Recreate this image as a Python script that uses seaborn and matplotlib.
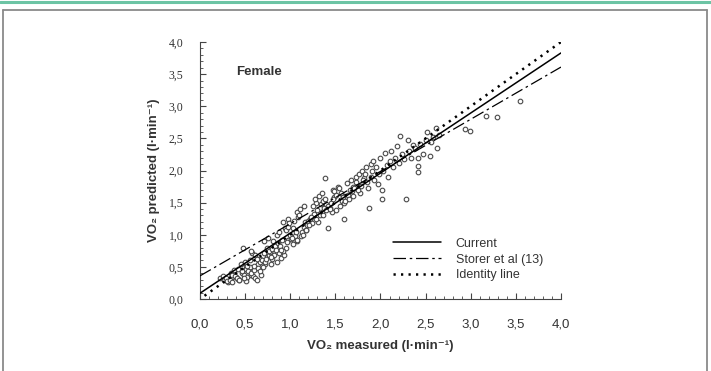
import matplotlib
matplotlib.use("Agg")
import matplotlib.pyplot as plt
import matplotlib.ticker as mticker
from matplotlib.lines import Line2D
import seaborn as sns
import pandas as pd

# measured / predicted VO2 for the female sample
measured = [
    0.22, 0.27, 0.25, 0.31, 0.29, 0.34, 0.30, 0.36, 0.33, 0.38, 0.35, 0.40, 0.36, 0.42, 0.38, 0.43,
    0.39, 0.46, 0.41, 0.47, 0.43, 0.42, 0.49, 0.45, 0.51, 0.46, 0.52, 0.48, 0.55, 0.49, 0.56, 0.50,
    0.57, 0.51, 0.59, 0.52, 0.58, 0.53, 0.61, 0.55, 0.62, 0.56, 0.64, 0.57, 0.63, 0.60, 0.66, 0.60,
    0.68, 0.61, 0.67, 0.64, 0.71, 0.63, 0.72, 0.66, 0.74, 0.69, 0.75, 0.70, 0.77, 0.72, 0.78, 0.73,
    0.71, 0.79, 0.74, 0.82, 0.75, 0.80, 0.77, 0.84, 0.79, 0.85, 0.80, 0.87, 0.81, 0.90, 0.83, 0.91,
    0.84, 0.93, 0.85, 0.95, 0.86, 0.92, 0.88, 0.98, 0.89, 0.94, 0.96, 0.90, 1.00, 0.92, 1.01, 0.95,
    1.03, 0.97, 1.05, 0.98, 1.07, 0.99, 1.06, 1.02, 1.09, 1.03, 1.12, 1.04, 1.13, 1.08, 1.15, 1.07,
    1.16, 1.10, 1.18, 1.11, 1.19, 1.14, 1.22, 1.15, 1.24, 1.17, 1.26, 1.20, 1.28, 1.21, 1.30, 1.23,
    1.31, 1.25, 1.33, 1.27, 1.35, 1.29, 1.37, 1.32, 1.36, 1.38, 1.34, 1.40, 1.36, 1.42, 1.35, 1.44,
    1.38, 1.46, 1.40, 1.47, 1.42, 1.49, 1.44, 1.51, 1.45, 1.53, 1.47, 1.55, 1.49, 1.57, 1.51, 1.58,
    1.54, 1.60, 1.56, 1.63, 1.60, 1.58, 1.66, 1.61, 1.67, 1.64, 1.70, 1.65, 1.73, 1.68, 1.74, 1.70,
    1.76, 1.71, 1.77, 1.73, 1.79, 1.75, 1.82, 1.78, 1.84, 1.81, 1.86, 1.83, 1.89, 1.87, 1.85, 1.91,
    1.90, 1.92, 1.93, 1.95, 1.97, 1.98, 2.00, 2.02, 2.02, 2.03, 2.05, 2.07, 2.08, 2.10, 2.12, 2.14,
    2.16, 2.18, 2.20, 2.22, 2.24, 2.26, 2.28, 2.30, 2.32, 2.34, 2.36, 2.38, 2.41, 2.42, 2.41, 2.44,
    2.47, 2.50, 2.52, 2.55, 2.56, 2.58, 2.61, 2.63, 2.65, 2.94, 2.99, 3.17, 3.29, 3.55,
]
predicted = [
    0.33, 0.30, 0.36, 0.27, 0.32, 0.40, 0.28, 0.35, 0.30, 0.42, 0.27, 0.34, 0.38, 0.31, 0.45, 0.29,
    0.36, 0.52, 0.33, 0.40, 0.30, 0.47, 0.37, 0.55, 0.28, 0.43, 0.35, 0.80, 0.50, 0.32, 0.42, 0.58,
    0.38, 0.47, 0.36, 0.52, 0.72, 0.44, 0.33, 0.60, 0.48, 0.40, 0.55, 0.75, 0.30, 0.45, 0.62, 0.52,
    0.38, 0.68, 0.57, 0.48, 0.72, 0.62, 0.55, 0.44, 0.66, 0.60, 0.78, 0.50, 0.68, 0.58, 0.73, 0.62,
    0.90, 0.55, 0.80, 0.68, 0.95, 0.62, 0.74, 0.85, 0.66, 0.58, 0.78, 0.72, 0.90, 0.64, 0.82, 0.92,
    0.76, 0.68, 1.00, 0.80, 0.87, 0.74, 1.05, 0.92, 0.82, 1.10, 0.88, 0.76, 1.00, 1.20, 0.94, 1.08,
    0.85, 1.25, 0.98, 1.12, 0.90, 1.18, 1.05, 0.95, 1.28, 1.10, 0.98, 1.22, 1.05, 1.35, 1.12, 0.92,
    1.20, 1.30, 1.08, 1.40, 1.15, 1.00, 1.25, 1.45, 1.18, 1.08, 1.32, 1.22, 1.50, 1.15, 1.38, 1.28,
    1.20, 1.45, 1.30, 1.55, 1.35, 1.25, 1.42, 1.60, 1.30, 1.88, 1.48, 1.38, 1.52, 1.10, 1.65, 1.42,
    1.55, 1.35, 1.48, 1.70, 1.45, 1.58, 1.40, 1.62, 1.50, 1.75, 1.55, 1.45, 1.68, 1.52, 1.38, 1.60,
    1.72, 1.50, 1.65, 1.80, 1.25, 1.58, 1.70, 1.52, 1.85, 1.62, 1.75, 1.55, 1.90, 1.68, 1.78, 1.60,
    1.95, 1.72, 1.65, 1.82, 2.00, 1.70, 1.88, 1.76, 2.05, 1.85, 1.72, 1.95, 2.10, 1.41, 1.82, 2.00,
    1.90, 2.15, 1.85, 2.05, 1.79, 1.95, 2.20, 1.56, 1.70, 2.00, 2.28, 2.08, 1.90, 2.15, 2.30, 2.05,
    2.20, 2.38, 2.12, 2.53, 2.25, 2.18, 1.56, 2.47, 2.30, 2.20, 2.40, 2.35, 1.97, 2.07, 2.19, 2.42,
    2.26, 2.48, 2.60, 2.22, 2.45, 2.52, 2.66, 2.35, 2.55, 2.65, 2.61, 2.85, 2.84, 3.08,
]

# regression / reference lines (end points)
line_x = [0.0, 4.0]
current_y = [0.09, 3.83]
storer_y = [0.36, 3.61]
identity_x = [0.05, 4.0]
identity_y = [0.05, 4.0]

tick_vals = [0.0, 0.5, 1.0, 1.5, 2.0, 2.5, 3.0, 3.5, 4.0]
tick_labels = ["0,0", "0,5", "1,0", "1,5", "2,0", "2,5", "3,0", "3,5", "4,0"]

sns.set_style("ticks")
plt.rcParams["font.family"] = ["Liberation Sans", "DejaVu Sans"]

df = pd.DataFrame({"measured": measured, "predicted": predicted})

fig = plt.figure(figsize=(7.11, 3.71), dpi=100)
ax = fig.add_axes([200 / 711, 72 / 371, 361 / 711, 257 / 371])

sns.scatterplot(data=df, x="measured", y="predicted", ax=ax, s=11,
                facecolor="white", edgecolor="#4a4a4a", linewidth=0.8, zorder=2)
sns.lineplot(x=line_x, y=current_y, ax=ax, color="black", linewidth=1.1,
             label="Current", zorder=3)
sns.lineplot(x=line_x, y=storer_y, ax=ax, color="black", linewidth=0.9,
             linestyle=(0, (10, 3, 2, 3)), label="Storer et al (13)", zorder=3)
sns.lineplot(x=identity_x, y=identity_y, ax=ax, color="black", linewidth=1.8,
             linestyle=(0, (0.9, 2.1)), label="Identity line", zorder=3)

ax.set_xlim(0, 4.0)
ax.set_ylim(0, 4.0)
sns.despine(ax=ax)
for sp in ["left", "bottom"]:
    ax.spines[sp].set_color("#444444")
    ax.spines[sp].set_linewidth(0.8)

ax.set_xticks(tick_vals)
ax.set_xticklabels(tick_labels, fontsize=9.5, color="#333333")
ax.set_yticks(tick_vals)
ax.set_yticklabels(tick_labels, fontsize=8.5, color="#333333",
                   family=["Liberation Serif", "DejaVu Serif"])
ax.xaxis.set_minor_locator(mticker.MultipleLocator(0.1))
ax.yaxis.set_minor_locator(mticker.MultipleLocator(0.1))
ax.tick_params(axis="x", which="major", direction="in", length=4, width=0.8, pad=14, color="#444444")
ax.tick_params(axis="x", which="minor", direction="in", length=2.5, width=0.6, color="#444444")
ax.tick_params(axis="y", which="major", direction="in", length=4, width=0.8, pad=12, color="#444444")
ax.tick_params(axis="y", which="minor", direction="in", length=2.5, width=0.6, color="#444444")

ax.set_xlabel("VO₂ measured (l·min⁻¹)", fontsize=9.5, fontweight="bold",
              color="#333333", labelpad=7)
ax.set_ylabel("VO₂ predicted (l·min⁻¹)", fontsize=9.5, fontweight="bold",
              color="#333333", labelpad=6)

ax.text(0.4, 3.53, "Female", fontsize=9.5, fontweight="bold", color="#333333",
        va="center", ha="left")

leg = ax.legend(loc="upper left", bbox_to_anchor=(0.535, 0.238), frameon=False,
                fontsize=9, handlelength=3.8, handletextpad=1.2, labelspacing=0.3,
                borderpad=0, borderaxespad=0)
for t in leg.get_texts():
    t.set_color("#333333")

# page decorations: teal rule and grey frame without bottom edge
W, H = 711, 371
fig.add_artist(Line2D([0, 1], [1 - 1.5 / H, 1 - 1.5 / H], color="#6cc4a4", linewidth=2.2,
                      transform=fig.transFigure))
frame_kw = dict(color="#8a8a8a", linewidth=1.3, transform=fig.transFigure)
fig.add_artist(Line2D([3 / W, 3 / W], [0, 1 - 10 / H], **frame_kw))
fig.add_artist(Line2D([707 / W, 707 / W], [0, 1 - 10 / H], **frame_kw))
fig.add_artist(Line2D([3 / W, 707 / W], [1 - 10 / H, 1 - 10 / H], **frame_kw))

fig.savefig("out.png", dpi=100)
